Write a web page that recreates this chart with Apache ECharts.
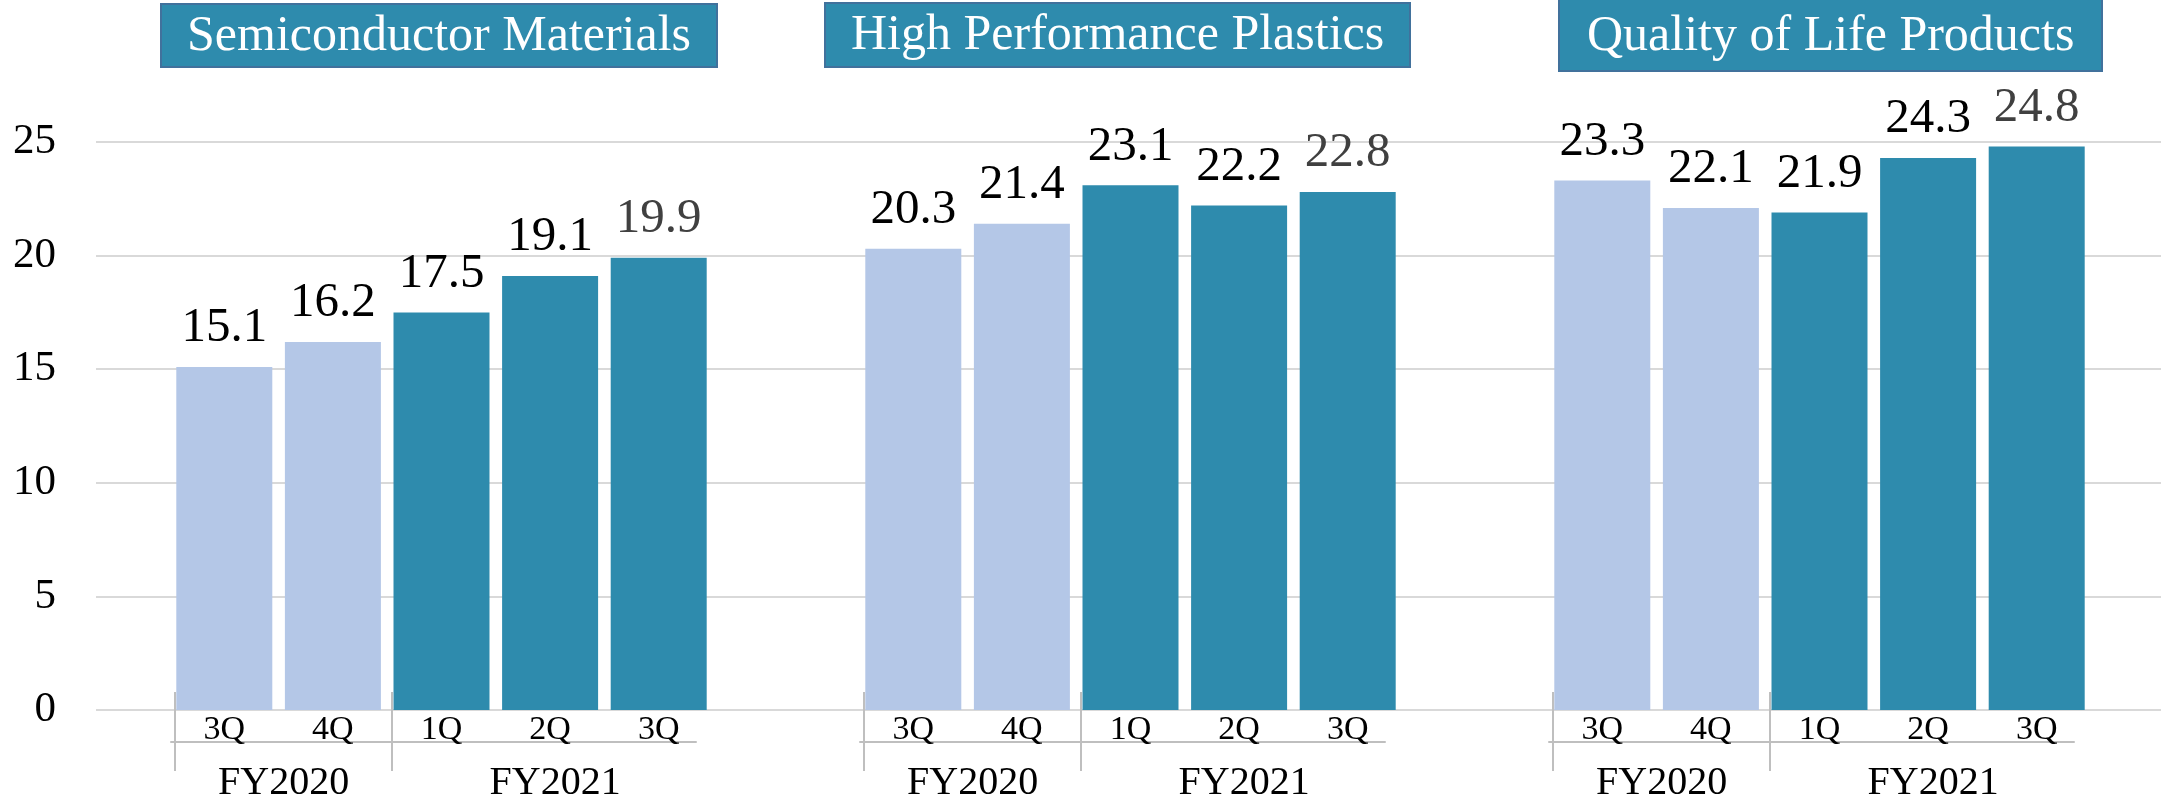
<!DOCTYPE html>
<html>
<head>
<meta charset="utf-8">
<script src="https://cdn.jsdelivr.net/npm/echarts@6/dist/echarts.min.js"></script>
<style>
html,body{margin:0;padding:0;background:#fff;}
#chart{width:2161px;height:803px;}
</style>
</head>
<body>
<div id="chart"></div>
<script>
// ---- data ----
const segments = ['Semiconductor Materials', 'High Performance Plastics', 'Quality of Life Products'];
const quarters = ['3Q', '4Q', '1Q', '2Q', '3Q'];
const fiscalYears = ['FY2020', 'FY2020', 'FY2021', 'FY2021', 'FY2021'];
const semiconductorMaterials = [15.1, 16.2, 17.5, 19.1, 19.9];
const highPerformancePlastics = [20.3, 21.4, 23.1, 22.2, 22.8];
const qualityOfLifeProducts = [23.3, 22.1, 21.9, 24.3, 24.8];
const yMin = 0, yMax = 25, yInterval = 5;

// ---- layout / style ----
const FONT = 'Liberation Serif';
const LIGHT = '#B4C7E7';
const DARK = '#2E8BAD';
const GRID_TOP = 142, GRID_H = 568;
const CAT_W = 108.6;
const panelLefts = [170, 859, 1548];
const titleBoxes = [
  { left: 161, top: 4, padding: [6, 26, 4, 26] },
  { left: 825, top: 3, padding: [6, 26, 5, 26] },
  { left: 1559, top: -6, padding: [16, 28, 8, 28] }
];
const seriesValues = [semiconductorMaterials, highPerformancePlastics, qualityOfLifeProducts];

// group spans derived from fiscal years
function groupsOf(fy) {
  const g = [];
  fy.forEach((name, i) => {
    if (g.length && g[g.length - 1].name === name) g[g.length - 1].end = i;
    else g.push({ name, start: i, end: i });
  });
  return g;
}
const groups = groupsOf(fiscalYears);
const firstYear = fiscalYears[0];

const grid = [{ left: 96, right: 0, top: GRID_TOP, height: GRID_H }];
const xAxis = [{ gridIndex: 0, type: 'value', show: false }];
const yAxis = [{
  gridIndex: 0, type: 'value', min: yMin, max: yMax, interval: yInterval,
  axisLine: { show: false }, axisTick: { show: false },
  axisLabel: { fontFamily: FONT, fontSize: 43, color: '#000', margin: 40 },
  splitLine: { lineStyle: { color: '#D9D9D9', width: 2 } }
}];
const series = [];
const title = [];

const GROUP_LINE = { color: '#BFBFBF', width: 2 };
const xMinG = -0.5 - 4 / CAT_W;
const xMaxG = xMinG + 525 / CAT_W;
const tickVals = groups.map(g => g.start - 0.5);
const labelVals = groups.map(g => (g.start + g.end) / 2);

panelLefts.forEach((left, p) => {
  // bar grid
  const gi = grid.length;
  grid.push({ left: left, width: CAT_W * quarters.length, top: GRID_TOP, height: GRID_H });
  xAxis.push({
    gridIndex: gi, type: 'category', data: quarters,
    axisLine: { show: false }, axisTick: { show: false },
    axisLabel: { fontFamily: FONT, fontSize: 34, color: '#000', margin: 3, interval: 0 }
  });
  const xi = xAxis.length - 1;
  yAxis.push({ gridIndex: gi, type: 'value', min: yMin, max: yMax, interval: yInterval, show: false });
  const yi = yAxis.length - 1;
  const vals = seriesValues[p];
  series.push({
    type: 'bar', xAxisIndex: xi, yAxisIndex: yi, barWidth: 96,
    data: vals.map((v, i) => ({
      value: v,
      itemStyle: { color: fiscalYears[i] === firstYear ? LIGHT : DARK },
      label: { color: i === vals.length - 1 ? '#404040' : '#000' }
    })),
    label: { show: true, position: 'top', distance: 14, fontFamily: FONT, fontSize: 49 }
  });

  // group axis grid
  const gg = grid.length;
  grid.push({ left: left + 1, width: 525, top: 698, height: 50 });
  yAxis.push({ gridIndex: gg, type: 'value', show: false });
  xAxis.push({
    gridIndex: gg, type: 'value', min: xMinG, max: xMaxG, position: 'bottom',
    axisLine: { show: true, lineStyle: GROUP_LINE },
    axisTick: { show: true, inside: true, length: 50, customValues: tickVals, lineStyle: GROUP_LINE },
    axisLabel: { show: false }, splitLine: { show: false }
  });
  xAxis.push({
    gridIndex: gg, type: 'value', min: xMinG, max: xMaxG, position: 'bottom',
    axisLine: { show: false },
    axisTick: { show: true, inside: false, length: 29, customValues: tickVals, lineStyle: GROUP_LINE },
    axisLabel: {
      show: true, customValues: labelVals, margin: 21, fontFamily: FONT, fontSize: 40, color: '#000',
      formatter: v => { const g = groups.find(x => Math.abs((x.start + x.end) / 2 - v) < 1e-6); return g ? g.name : ''; }
    },
    splitLine: { show: false }
  });

  // title box
  const tb = titleBoxes[p];
  title.push({
    text: segments[p], left: tb.left, top: tb.top, padding: tb.padding,
    backgroundColor: DARK, borderColor: '#41719C', borderWidth: 2,
    textStyle: { fontFamily: FONT, fontSize: 50, fontWeight: 'normal', color: '#fff', lineHeight: 53 }
  });
});

const chart = echarts.init(document.getElementById('chart'), null, { renderer: 'canvas' });
chart.setOption({ animation: false, backgroundColor: '#fff', title, grid, xAxis, yAxis, series });
</script>
</body>
</html>
